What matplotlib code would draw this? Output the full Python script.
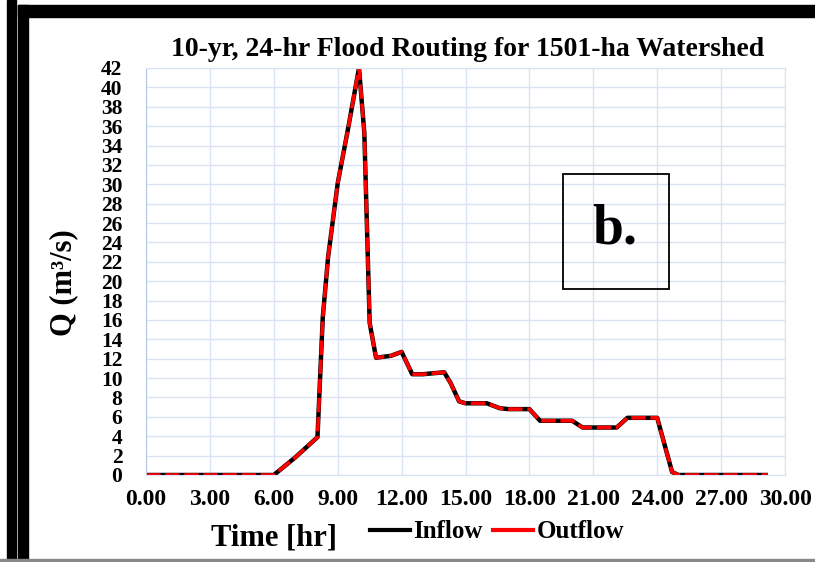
import matplotlib.pyplot as plt
from matplotlib.lines import Line2D
from matplotlib.patches import Rectangle

# hydrograph (hours, m3/s)
time_hr = [0, 6.0, 7.0, 8.05, 8.3, 8.55, 9.0, 9.5, 10.0, 10.25, 10.5, 10.8,
           11.5, 12.0, 12.5, 13.0, 14.0, 14.3, 14.7, 15.0, 16.0, 16.6, 17.0,
           18.0, 18.5, 19.0, 20.0, 20.5, 21.0, 22.1, 22.6, 23.0, 24.0, 24.3,
           24.7, 25.0, 29.2]
inflow = [0, 0, 1.8, 3.9, 16.3, 22.5, 30.1, 35.9, 42.0, 35.3, 15.7, 12.1,
          12.3, 12.7, 10.4, 10.4, 10.6, 9.5, 7.6, 7.4, 7.4, 6.9, 6.8,
          6.8, 5.6, 5.6, 5.6, 4.9, 4.9, 4.9, 5.9, 5.9, 5.9, 3.5,
          0.3, 0, 0]
outflow = [0, 0, 1.8, 3.9, 16.3, 22.5, 30.1, 35.9, 42.0, 35.3, 15.7, 12.1,
           12.3, 12.7, 10.4, 10.4, 10.6, 9.5, 7.6, 7.4, 7.4, 6.9, 6.8,
           6.8, 5.6, 5.6, 5.6, 4.9, 4.9, 4.9, 5.9, 5.9, 5.9, 3.5,
           0.3, 0, 0]

x_ticks = [0, 3, 6, 9, 12, 15, 18, 21, 24, 27, 30]
y_ticks = list(range(0, 43, 2))

plt.rcParams["font.family"] = ["Liberation Serif", "DejaVu Serif"]
plt.rcParams["font.weight"] = "bold"

fig = plt.figure(figsize=(8.15, 5.62), dpi=100)
W, H = 815, 562
ax = fig.add_axes([146 / W, 1 - 475 / H, (785 - 146) / W, (475 - 68) / H])

grid_col = "#dae3f3"
ax.plot(time_hr, inflow, color="black", lw=3.2, solid_capstyle="butt")
ax.plot(time_hr, outflow, color="#ff0000", lw=2.6, dashes=(4, 1.3))

ax.set_xlim(0, 30)
ax.set_ylim(0, 42)
ax.set_xticks(x_ticks)
ax.set_xticklabels([f"{t:.2f}" for t in x_ticks])
ax.set_yticks(y_ticks)
ax.tick_params(axis="x", length=0, labelsize=17, pad=10)
ax.tick_params(axis="y", length=0, labelsize=15.5, pad=17)
for lab in ax.get_xticklabels() + ax.get_yticklabels():
    lab.set_fontweight("bold")
ax.grid(True, color=grid_col, lw=1)
for s in ax.spines.values():
    s.set_color(grid_col)
ax.spines["left"].set_color("#b4c7e7")

fig.text(468 / W, 1 - 49 / H, "10-yr, 24-hr Flood Routing for 1501-ha Watershed",
         fontsize=20, fontweight="bold", ha="center", va="center")
ax.set_ylabel("Q (m³/s)", fontsize=22, fontweight="bold")
ax.yaxis.set_label_coords((78 - 146) / 639, (475 - 283) / 407)
fig.text(274 / W, 1 - 538 / H, "Time [hr]", fontsize=22, fontweight="bold",
         ha="center", va="center")

handles = [Line2D([], [], color="black", lw=3), Line2D([], [], color="#ff0000", lw=3)]
fig.legend(handles, ["Inflow", "Outflow"], loc="center",
           bbox_to_anchor=(497 / W, 1 - 532 / H), ncol=2,
           frameon=False, handlelength=1.6, handletextpad=0.15,
           columnspacing=0.4, prop={"weight": "bold", "size": 18})

# panel label box
fig.patches.append(Rectangle((563 / W, 1 - 289 / H), 106 / W, 115 / H,
                             transform=fig.transFigure, fill=False,
                             edgecolor="black", lw=1.3))
fig.text(615 / W, 1 - 230 / H, "b.", fontsize=40, fontweight="bold",
         ha="center", va="center")

# black frame pieces from the original figure
for (x0, y0, w, h) in [(7, 0, 9, 562), (18, 5, 10, 557), (18, 5, 797, 12)]:
    fig.patches.append(Rectangle((x0 / W, 1 - (y0 + h) / H), w / W, h / H,
                                 transform=fig.transFigure, color="black"))
fig.patches.append(Rectangle((0, 0), 1, 3 / H, transform=fig.transFigure,
                             color="#888888"))

fig.savefig("out.png", dpi=100)
